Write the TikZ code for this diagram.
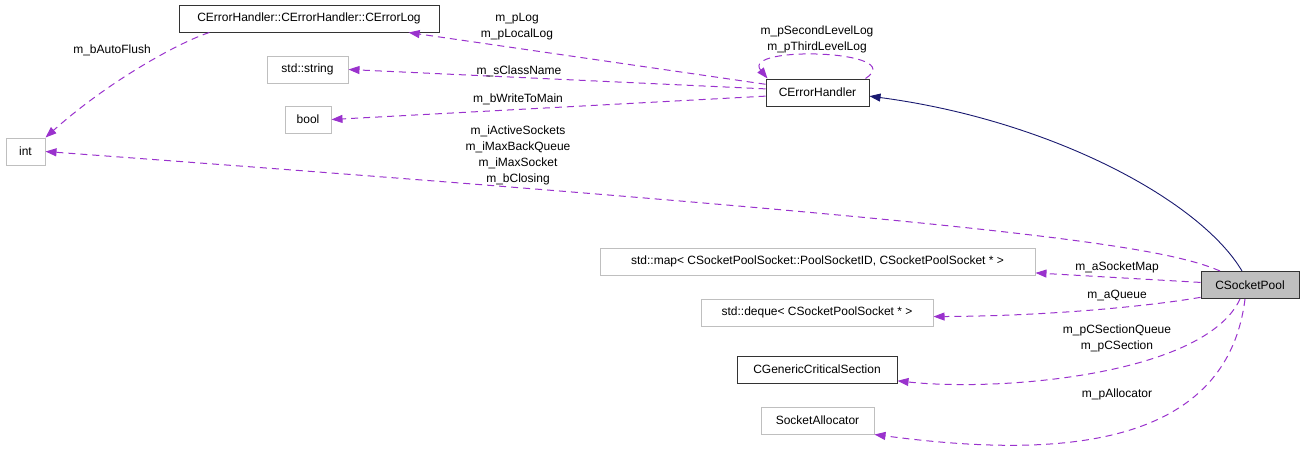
\documentclass[tikz,border=0pt]{standalone}
\usepackage{fontspec}
\setmainfont{Liberation Sans}
\usetikzlibrary{arrows.meta}

\definecolor{edgePurple}{HTML}{9A32CD}
\definecolor{edgeNavy}{HTML}{191970}
\definecolor{boxGray}{HTML}{BFBFBF}

\begin{document}
\begin{tikzpicture}
[x=1pt,y=-1pt,
  font=\fontsize{12}{16}\selectfont,
  refDecorate/.style={dash pattern=on 7pt off 5pt,line width=1pt,draw=edgePurple,-{Triangle[length=11pt,width=8pt]}},
  baseDecorate/.style={line width=0.9pt,draw=edgeNavy,-{Triangle[length=11pt,width=8pt]}},
  classDecorate/.style={shape=rectangle,draw=black!80,fill=white,line width=1pt,inner sep=0pt,minimum height=27pt},
  typeDecorate/.style={classDecorate,draw=boxGray},
  poolDecorate/.style={classDecorate,fill=boxGray},
  labelDecorate/.style={align=center,inner sep=0pt}]
\useasboundingbox (0,0) rectangle (1304,456);
%% nodes or vertices
\foreach \nodename/\x/\y/\w/\kind/\txt in {
  errlog/309/18.5/260/classDecorate/{CErrorHandler::CErrorHandler::CErrorLog},
  string/307.5/69.5/81/typeDecorate/{std::string},
  bool/308/119.5/46/typeDecorate/{bool},
  int/25.5/151.5/39/typeDecorate/{int},
  handler/817.5/92.5/103/classDecorate/{CErrorHandler},
  map/817.5/261.5/435/typeDecorate/{std::map< CSocketPoolSocket::PoolSocketID, CSocketPoolSocket * >},
  deque/817/312.5/232/typeDecorate/{std::deque< CSocketPoolSocket * >},
  critsec/817/369.5/160/classDecorate/{CGenericCriticalSection},
  alloc/817.5/420.5/113/typeDecorate/{SocketAllocator},
  pool/1250/285/98/poolDecorate/{CSocketPool}}
{
  \node (\nodename) at (\x,\y) [\kind,minimum width=\w pt] {\txt};
}
%% connectors
\draw[refDecorate] (errlog.188) .. controls (180,42) and (110,80) .. (int.north east);
\draw[refDecorate] (handler.171) -- (errlog.352);
\draw[refDecorate] (handler.176) -- (string.east);
\draw[refDecorate] (handler.184) -- (bool.east);
\draw[refDecorate] ([xshift=-4pt]handler.north east) .. controls (910,50) and (740,45) .. ([xshift=2pt]handler.north west);
\draw[baseDecorate] ([xshift=-8pt]pool.north) .. controls (1200,200) and (1050,120) .. (handler.-4);
\draw[refDecorate] ([xshift=-30pt]pool.north) .. controls (1160,245) and (1000,222) .. (int.east);
\draw[refDecorate] (pool.177) -- (map.-3);
\draw[refDecorate] (pool.194) .. controls (1150,306) and (1050,316) .. (deque.-2);
\draw[refDecorate] ([xshift=-10pt]pool.south) .. controls (1205,375) and (1000,392) .. (critsec.-8);
\draw[refDecorate] ([xshift=-5pt]pool.south) .. controls (1225,460) and (1030,455) .. (alloc.south east);
%% edge labels
\node[labelDecorate] (lblFlush) at (112,50) {m\_bAutoFlush};
\node[labelDecorate] (lblLog) at (517,27) {m\_pLog\\m\_pLocalLog};
\node[labelDecorate] (lblName) at (519,71) {m\_sClassName};
\node[labelDecorate] (lblMain) at (518,99) {m\_bWriteToMain};
\node[labelDecorate] (lblLevel) at (817,39) {m\_pSecondLevelLog\\m\_pThirdLevelLog};
\node[labelDecorate] (lblInt) at (518,155) {m\_iActiveSockets\\m\_iMaxBackQueue\\m\_iMaxSocket\\m\_bClosing};
\node[labelDecorate] (lblMap) at (1117,267) {m\_aSocketMap};
\node[labelDecorate] (lblQueue) at (1117,295) {m\_aQueue};
\node[labelDecorate] (lblSection) at (1117,338.5) {m\_pCSectionQueue\\m\_pCSection};
\node[labelDecorate] (lblAlloc) at (1117,394) {m\_pAllocator};
\end{tikzpicture}
\end{document}
